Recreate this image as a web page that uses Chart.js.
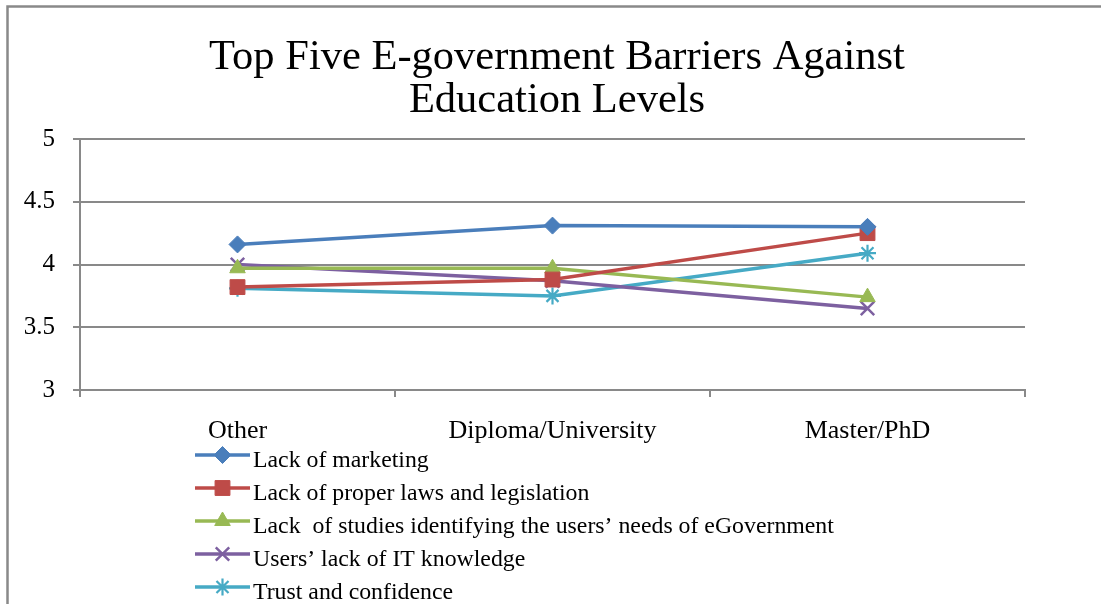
<!DOCTYPE html>
<html>
<head>
<meta charset="utf-8">
<title>Top Five E-government Barriers Against Education Levels</title>
<script src="https://cdn.jsdelivr.net/npm/chart.js@4/dist/chart.umd.min.js"></script>
<style>
    html, body { margin: 0; padding: 0; background: #fff; }
    #wrap { position: relative; width: 1101px; height: 604px; }
</style>
</head>
<body>
<div id="wrap"><canvas id="barriers"></canvas></div>
<script>
// Mean barrier scores per education level
const educationLevels = ['Other', 'Diploma/University', 'Master/PhD'];
const lackOfMarketing = [4.16, 4.31, 4.30];
const lackOfLaws = [3.82, 3.88, 4.25];
const lackOfStudies = [3.97, 3.97, 3.74];
const lackOfItKnowledge = [4.00, 3.87, 3.65];
const trustAndConfidence = [3.81, 3.75, 4.09];

const seriesLabels = [
    'Lack of marketing',
    'Lack of proper laws and legislation',
    'Lack  of studies identifying the users\u2019 needs of eGovernment',
    'Users\u2019 lack of IT knowledge',
    'Trust and confidence',
];
const titleLines = ['Top Five E-government Barriers Against', 'Education Levels'];

const SERIF = '"Liberation Serif", "Times New Roman", serif';
const GRID = '#898989';

const seriesStyles = [
    { color: '#4A7EBB', pointStyle: 'rectRot', radius: 8.5, borderWidth: 1 },
    { color: '#BE4B48', pointStyle: 'rect', radius: 10.5, borderWidth: 1 },
    { color: '#98B954', pointStyle: 'triangle', radius: 9, borderWidth: 1 },
    { color: '#7D60A0', pointStyle: 'crossRot', radius: 9.5, borderWidth: 2.5 },
    { color: '#46AAC5', pointStyle: 'star', radius: 8.5, borderWidth: 2.2 },
];

function makeDataset(label, data, style) {
    return {
        label,
        data,
        borderColor: style.color,
        backgroundColor: style.color,
        borderWidth: 3.5,
        tension: 0,
        pointStyle: style.pointStyle,
        pointRadius: style.radius,
        pointHoverRadius: style.radius,
        pointBackgroundColor: style.color,
        pointBorderColor: style.color,
        pointBorderWidth: style.borderWidth,
    };
}

// Frame on the top and left edge, plus the two-line heading
const framePlugin = {
    id: 'frame',
    beforeDraw(chart) {
        const ctx = chart.ctx;
        ctx.save();
        ctx.strokeStyle = GRID;
        ctx.lineWidth = 2.5;
        ctx.beginPath();
        ctx.moveTo(7.5, chart.height);
        ctx.lineTo(7.5, 6.5);
        ctx.lineTo(chart.width, 6.5);
        ctx.stroke();

        ctx.fillStyle = '#000';
        ctx.font = '42.5px ' + SERIF;
        ctx.textAlign = 'center';
        ctx.textBaseline = 'alphabetic';
        titleLines.forEach((line, i) => ctx.fillText(line, 557, 69 + i * 43));
        ctx.restore();
    },
};

// One legend entry per row under the category labels
const stackedLegend = {
    id: 'stackedLegend',
    afterDraw(chart) {
        const ctx = chart.ctx;
        const x0 = 195, x1 = 250, textX = 253;
        const firstRow = 455, rowGap = 33;
        ctx.save();
        chart.data.datasets.forEach((ds, i) => {
            const y = firstRow + i * rowGap;
            ctx.strokeStyle = ds.borderColor;
            ctx.lineWidth = ds.borderWidth;
            ctx.beginPath();
            ctx.moveTo(x0, y);
            ctx.lineTo(x1, y);
            ctx.stroke();

            ctx.fillStyle = ds.pointBackgroundColor;
            ctx.strokeStyle = ds.pointBorderColor;
            ctx.lineWidth = ds.pointBorderWidth;
            Chart.helpers.drawPoint(ctx, {
                pointStyle: ds.pointStyle,
                radius: ds.pointRadius,
                borderWidth: ds.pointBorderWidth,
                rotation: 0,
            }, (x0 + x1) / 2, y);

            ctx.fillStyle = '#000';
            ctx.font = '23.8px ' + SERIF;
            ctx.textBaseline = 'alphabetic';
            ctx.textAlign = 'left';
            ctx.fillText(ds.label, textX, y + 12);
        });
        ctx.restore();
    },
};

new Chart(document.getElementById('barriers'), {
    type: 'line',
    data: {
        labels: educationLevels,
        datasets: [
            makeDataset(seriesLabels[0], lackOfMarketing, seriesStyles[0]),
            makeDataset(seriesLabels[1], lackOfLaws, seriesStyles[1]),
            makeDataset(seriesLabels[2], lackOfStudies, seriesStyles[2]),
            makeDataset(seriesLabels[3], lackOfItKnowledge, seriesStyles[3]),
            makeDataset(seriesLabels[4], trustAndConfidence, seriesStyles[4]),
        ],
    },
    options: {
        responsive: true,
        maintainAspectRatio: false,
        animation: false,
        events: [],
        layout: { padding: { left: 20, right: 76, top: 139, bottom: 0 } },
        plugins: {
            legend: { display: false },
            tooltip: { enabled: false },
            title: { display: false },
        },
        scales: {
            x: {
                offset: true,
                grid: {
                    offset: true,
                    drawOnChartArea: false,
                    drawTicks: true,
                    tickLength: 7,
                    color: GRID,
                    lineWidth: 2,
                },
                border: { display: true, color: GRID, width: 2 },
                ticks: {
                    color: '#000',
                    font: { family: SERIF, size: 26 },
                    padding: 19,
                    maxRotation: 0,
                },
                afterFit(scale) { scale.height = 214; },
            },
            y: {
                min: 3,
                max: 5,
                ticks: {
                    stepSize: 0.5,
                    color: '#000',
                    font: { family: SERIF, size: 25 },
                    padding: 18,
                    callback: (v) => String(v),
                },
                grid: { color: GRID, lineWidth: 2, tickLength: 7 },
                border: { display: true, color: GRID, width: 2 },
                afterFit(scale) { scale.width = 60; },
            },
        },
    },
    plugins: [framePlugin, stackedLegend],
});
</script>
</body>
</html>
